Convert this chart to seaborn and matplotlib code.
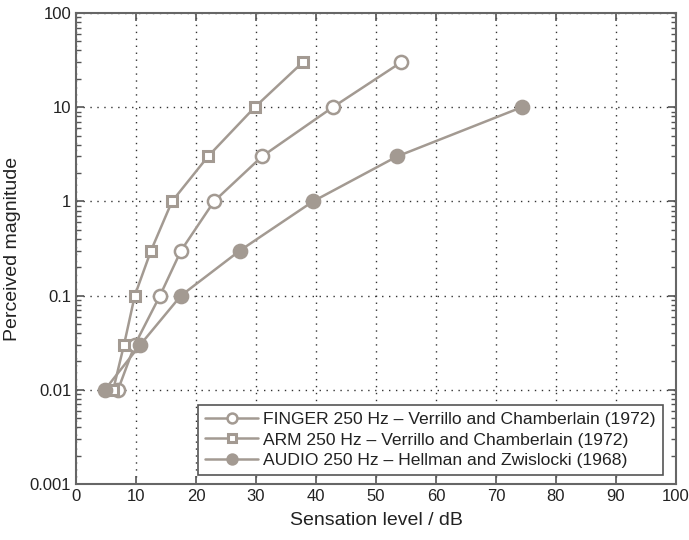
import numpy as np
import pandas as pd
import matplotlib
matplotlib.use("Agg")
import matplotlib.pyplot as plt
import seaborn as sns
from matplotlib.ticker import FixedLocator, FixedFormatter, LogLocator, NullFormatter

# Data
finger_x = [7.0, 9.8, 14.0, 17.5, 23.0, 31.0, 42.8, 54.2]
finger_y = [0.01, 0.03, 0.1, 0.3, 1, 3, 10, 30]
arm_x = [6.2, 8.0, 9.8, 12.5, 16.0, 22.0, 29.8, 37.8]
arm_y = [0.01, 0.03, 0.1, 0.3, 1, 3, 10, 30]
audio_x = [4.8, 10.7, 17.5, 27.3, 39.5, 53.5, 74.3]
audio_y = [0.01, 0.03, 0.1, 0.3, 1, 3, 10]

labels = ["FINGER 250 Hz \u2013 Verrillo and Chamberlain (1972)",
          "ARM 250 Hz \u2013 Verrillo and Chamberlain (1972)",
          "AUDIO 250 Hz \u2013 Hellman and Zwislocki (1968)"]
x_ticks = [0, 10, 20, 30, 40, 50, 60, 70, 80, 90, 100]
y_ticks = [0.001, 0.01, 0.1, 1, 10, 100]
y_tick_labels = ["0.001", "0.01", "0.1", "1", "10", "100"]

sns.set_style("ticks")
plt.rcParams['font.family'] = ['Liberation Sans', 'DejaVu Sans']

col = "#a39a92"
txt = "#222222"

fig = plt.figure(figsize=(6.89, 5.40), dpi=100)
ax = fig.add_axes([0.1103, 0.1037, 0.8708, 0.8722])

common = dict(color=col, linewidth=1.8, markersize=9.5, markeredgewidth=1.8,
              markeredgecolor=col, ax=ax, sort=False)
sns.lineplot(x=finger_x, y=finger_y, marker="o", markerfacecolor="white",
             label=labels[0], **common)
sns.lineplot(x=arm_x, y=arm_y, marker="s", markerfacecolor="white",
             label=labels[1], **{**common, "markersize": 7.5, "markeredgewidth": 2.2})
sns.lineplot(x=audio_x, y=audio_y, marker="o", markerfacecolor=col,
             label=labels[2], **common)

ax.set_yscale("log")
ax.set_xlim(0, 100)
ax.set_ylim(0.001, 100)
ax.xaxis.set_major_locator(FixedLocator(x_ticks))
ax.yaxis.set_major_locator(FixedLocator(y_ticks))
ax.yaxis.set_major_formatter(FixedFormatter(y_tick_labels))
ax.yaxis.set_minor_locator(LogLocator(base=10, subs=np.arange(2, 10)))
ax.yaxis.set_minor_formatter(NullFormatter())

ax.grid(True, which="major", linestyle=(0, (1, 4)), color="#333333", linewidth=1.0)
ax.tick_params(which="both", direction="in", top=True, right=True, colors="#555555",
               labelcolor=txt, labelsize=12)
ax.tick_params(which="major", length=6, width=1.2)
ax.tick_params(which="minor", length=3.5, width=1.0)
for s in ax.spines.values():
    s.set_color("#666666")
    s.set_linewidth(1.5)

ax.set_xlabel("Sensation level / dB", fontsize=14, color=txt, labelpad=6)
ax.set_ylabel("Perceived magnitude", fontsize=14, color=txt, labelpad=6)

leg = ax.legend(loc="lower right", bbox_to_anchor=(0.978, 0.019), borderaxespad=0,
                fontsize=12.6, frameon=True, fancybox=False, handlelength=3.0,
                handletextpad=0.3, labelspacing=0.3, borderpad=0.4, framealpha=1,
                markerscale=0.75)
leg.get_frame().set_edgecolor("#555555")
leg.get_frame().set_linewidth(1.2)
for t in leg.get_texts():
    t.set_color(txt)

fig.savefig("out.png", dpi=100)
